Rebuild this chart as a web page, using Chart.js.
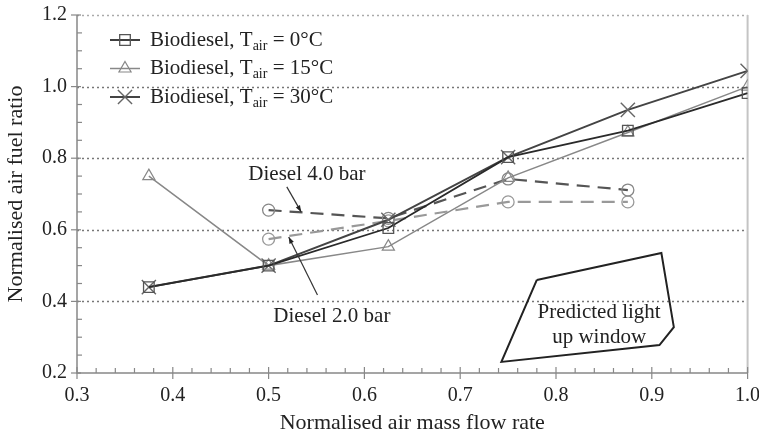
<!DOCTYPE html>
<html>
<head>
<meta charset="utf-8">
<script src="https://cdn.jsdelivr.net/npm/chart.js@4.4.1/dist/chart.umd.min.js"></script>
<style>
  html, body { margin: 0; padding: 0; background: #fff; }
  #wrap { width: 759px; height: 436px; }
</style>
</head>
<body>
<div id="wrap"><canvas id="afr"></canvas></div>
<script>
// values
const flowRate = [0.375, 0.5, 0.625, 0.75, 0.875, 1.0];
const bio0 = [0.44, 0.50, 0.605, 0.803, 0.877, 0.982];
const bio15 = [0.75, 0.50, 0.553, 0.745, 0.872, 1.0];
const bio30 = [0.44, 0.50, 0.628, 0.803, 0.935, 1.044];

const dieselFlow = [0.5, 0.625, 0.75, 0.875];
const diesel4 = [0.655, 0.632, 0.742, 0.711];
const diesel2 = [0.574, 0.625, 0.678, 0.678];

// predicted light up window outline (closed)
const windowX = [0.780, 0.910, 0.923, 0.908, 0.743, 0.780];
const windowY = [0.460, 0.535, 0.328, 0.278, 0.231, 0.460];

const xTicks = [0.3, 0.4, 0.5, 0.6, 0.7, 0.8, 0.9, 1.0];
const yTicks = [0.2, 0.4, 0.6, 0.8, 1.0, 1.2];
const gridAt = [0.4, 0.6, 0.8, 1.0];

const legendNames = ["0°C", "15°C", "30°C"];

const SERIF = "'Liberation Serif', 'DejaVu Serif', serif";

function pts(xs, ys) {
  return xs.map((x, i) => ({ x: x, y: ys[i] }));
}

// axes, ticks, gridlines drawn on the library scales
const frame = {
  id: "frame",
  beforeDatasetsDraw(chart) {
    const { ctx, chartArea: a, scales: { x, y } } = chart;
    ctx.save();
    // dotted horizontal grid
    ctx.setLineDash([2, 3]);
    ctx.lineWidth = 1.5;
    ctx.strokeStyle = "#777";
    gridAt.forEach(v => {
      const py = Math.round(y.getPixelForValue(v)) + 0.5;
      ctx.beginPath(); ctx.moveTo(a.left, py); ctx.lineTo(a.right, py); ctx.stroke();
    });
    // top border, dotted light grey
    ctx.strokeStyle = "#aaa";
    ctx.beginPath(); ctx.moveTo(a.left, a.top + 0.5); ctx.lineTo(a.right, a.top + 0.5); ctx.stroke();
    ctx.setLineDash([]);
    // right border
    ctx.strokeStyle = "#c4c4c4";
    ctx.lineWidth = 2;
    ctx.beginPath(); ctx.moveTo(a.right, a.top); ctx.lineTo(a.right, a.bottom); ctx.stroke();
    // left & bottom axes
    ctx.strokeStyle = "#888";
    ctx.lineWidth = 1.5;
    ctx.beginPath();
    ctx.moveTo(a.left, a.top); ctx.lineTo(a.left, a.bottom); ctx.lineTo(a.right, a.bottom);
    ctx.stroke();
    ctx.lineWidth = 1.2;
    // y ticks: major across, minor inside
    for (let k = 0; k <= 20; k++) {
      const v = 0.2 + k * 0.05;
      const py = y.getPixelForValue(v);
      ctx.beginPath();
      if (k % 4 === 0) { ctx.moveTo(a.left - 6, py); ctx.lineTo(a.left + 4, py); }
      else { ctx.moveTo(a.left, py); ctx.lineTo(a.left + 5, py); }
      ctx.stroke();
    }
    // x ticks: major across, minor upward
    for (let k = 0; k <= 35; k++) {
      const v = 0.3 + k * 0.02;
      const px = x.getPixelForValue(v);
      ctx.beginPath();
      if (k % 5 === 0) { ctx.moveTo(px, a.bottom - 6); ctx.lineTo(px, a.bottom + 6); }
      else { ctx.moveTo(px, a.bottom); ctx.lineTo(px, a.bottom - 5); }
      ctx.stroke();
    }
    ctx.restore();
  }
};

// legend with subscripts, and the text annotations
const notes = {
  id: "notes",
  afterDatasetsDraw(chart) {
    const { ctx, chartArea: a, scales: { x, y } } = chart;
    const h = Chart.helpers;
    ctx.save();
    ctx.textBaseline = "middle";

    // legend
    chart.data.datasets.slice(0, 3).forEach((ds, i) => {
      const rowY = a.top + 25 + i * 28.5;
      const x0 = a.left + 33, x1 = a.left + 63;
      ctx.strokeStyle = ds.borderColor;
      ctx.lineWidth = ds.borderWidth;
      ctx.beginPath(); ctx.moveTo(x0, rowY); ctx.lineTo(x1, rowY); ctx.stroke();
      ctx.fillStyle = "rgba(0,0,0,0)";
      ctx.strokeStyle = ds.pointBorderColor;
      ctx.lineWidth = ds.pointBorderWidth;
      h.drawPoint(ctx, {
        pointStyle: ds.pointStyle, radius: ds.pointRadius, rotation: 0,
        borderWidth: ds.pointBorderWidth
      }, (x0 + x1) / 2, rowY);
      ctx.fillStyle = "#222";
      let tx = x1 + 10;
      ctx.textAlign = "left";
      ctx.font = "21px " + SERIF;
      ctx.fillText("Biodiesel, T", tx, rowY);
      tx += ctx.measureText("Biodiesel, T").width;
      ctx.font = "14px " + SERIF;
      ctx.fillText("air", tx, rowY + 6);
      tx += ctx.measureText("air").width;
      ctx.font = "21px " + SERIF;
      ctx.fillText(" = " + legendNames[i], tx, rowY);
    });

    // arrows to the diesel lines
    const arrow = (fx, fy, tx2, ty2) => {
      const x1 = x.getPixelForValue(fx), y1 = y.getPixelForValue(fy);
      const x2 = x.getPixelForValue(tx2), y2 = y.getPixelForValue(ty2);
      const ang = Math.atan2(y2 - y1, x2 - x1);
      ctx.strokeStyle = "#333"; ctx.fillStyle = "#222"; ctx.lineWidth = 1.2;
      ctx.beginPath(); ctx.moveTo(x1, y1); ctx.lineTo(x2, y2); ctx.stroke();
      ctx.beginPath();
      ctx.moveTo(x2, y2);
      ctx.lineTo(x2 - 7 * Math.cos(ang - 0.35), y2 - 7 * Math.sin(ang - 0.35));
      ctx.lineTo(x2 - 7 * Math.cos(ang + 0.35), y2 - 7 * Math.sin(ang + 0.35));
      ctx.closePath(); ctx.fill();
    };
    arrow(0.519, 0.720, 0.534, 0.650);
    arrow(0.551, 0.418, 0.521, 0.580);

    ctx.fillStyle = "#222";
    ctx.textAlign = "center";
    ctx.font = "21px " + SERIF;
    ctx.fillText("Diesel 4.0 bar", x.getPixelForValue(0.540), y.getPixelForValue(0.755));
    ctx.fillText("Diesel 2.0 bar", x.getPixelForValue(0.566), y.getPixelForValue(0.359));
    ctx.fillText("Predicted light", x.getPixelForValue(0.845), y.getPixelForValue(0.370));
    ctx.fillText("up window", x.getPixelForValue(0.845), y.getPixelForValue(0.300));
    ctx.restore();
  }
};

const tickFont = { family: SERIF, size: 20 };
const titleFont = { family: SERIF, size: 22 };

new Chart(document.getElementById("afr"), {
  type: "scatter",
  data: {
    datasets: [
      {
        label: "Biodiesel, Tair = 0°C", data: pts(flowRate, bio0), showLine: true,
        borderColor: "#2a2a2a", borderWidth: 1.8, pointStyle: "rect", pointRadius: 7.5,
        pointBorderWidth: 1.3, pointBackgroundColor: "rgba(0,0,0,0)", pointBorderColor: "#555"
      },
      {
        label: "Biodiesel, Tair = 15°C", data: pts(flowRate, bio15), showLine: true,
        borderColor: "#888", borderWidth: 1.5, pointStyle: "triangle", pointRadius: 7,
        pointBorderWidth: 1.2, pointBackgroundColor: "rgba(0,0,0,0)", pointBorderColor: "#888"
      },
      {
        label: "Biodiesel, Tair = 30°C", data: pts(flowRate, bio30), showLine: true,
        borderColor: "#444", borderWidth: 2, pointStyle: "crossRot", pointRadius: 10,
        pointBorderWidth: 1.4, pointBorderColor: "#666"
      },
      {
        label: "Diesel 4.0 bar", data: pts(dieselFlow, diesel4), showLine: true,
        borderColor: "#555", borderWidth: 2.2, borderDash: [13, 8], pointStyle: "circle",
        pointRadius: 6, pointBorderWidth: 1.3, pointBackgroundColor: "rgba(255,255,255,0)",
        pointBorderColor: "#888"
      },
      {
        label: "Diesel 2.0 bar", data: pts(dieselFlow, diesel2), showLine: true,
        borderColor: "#999", borderWidth: 2.2, borderDash: [13, 8], pointStyle: "circle",
        pointRadius: 6, pointBorderWidth: 1.3, pointBackgroundColor: "rgba(255,255,255,0)",
        pointBorderColor: "#999"
      },
      {
        label: "Predicted light up window", data: pts(windowX, windowY), showLine: true,
        borderColor: "#222", borderWidth: 2, pointRadius: 0, tension: 0
      }
    ]
  },
  options: {
    responsive: true,
    maintainAspectRatio: false,
    animation: false,
    layout: { padding: { top: 15, right: 11, left: 0, bottom: 0 } },
    plugins: {
      legend: { display: false },
      tooltip: { enabled: false }
    },
    scales: {
      x: {
        type: "linear", min: 0.3, max: 1.0,
        afterBuildTicks: s => { s.ticks = xTicks.map(v => ({ value: v })); },
        afterFit: s => { s.height = 63; s.paddingLeft = 0; s.paddingRight = 0; },
        grid: { display: false, drawTicks: false },
        border: { display: false },
        ticks: { font: tickFont, color: "#222", padding: 11, maxRotation: 0, autoSkip: false,
                 callback: v => v.toFixed(1) },
        title: { display: true, text: "Normalised air mass flow rate", font: titleFont,
                 color: "#222", padding: { top: 0, bottom: 0 } }
      },
      y: {
        type: "linear", min: 0.2, max: 1.2,
        afterBuildTicks: s => { s.ticks = yTicks.map(v => ({ value: v })); },
        afterFit: s => { s.width = 77; s.paddingTop = 0; s.paddingBottom = 0; },
        grid: { display: false, drawTicks: false },
        border: { display: false },
        ticks: { font: tickFont, color: "#222", padding: 10, autoSkip: false,
                 callback: v => v.toFixed(1) },
        title: { display: true, text: "Normalised air fuel ratio", font: titleFont,
                 color: "#222", padding: { top: 3, bottom: 0 } }
      }
    }
  },
  plugins: [frame, notes]
});
</script>
</body>
</html>
